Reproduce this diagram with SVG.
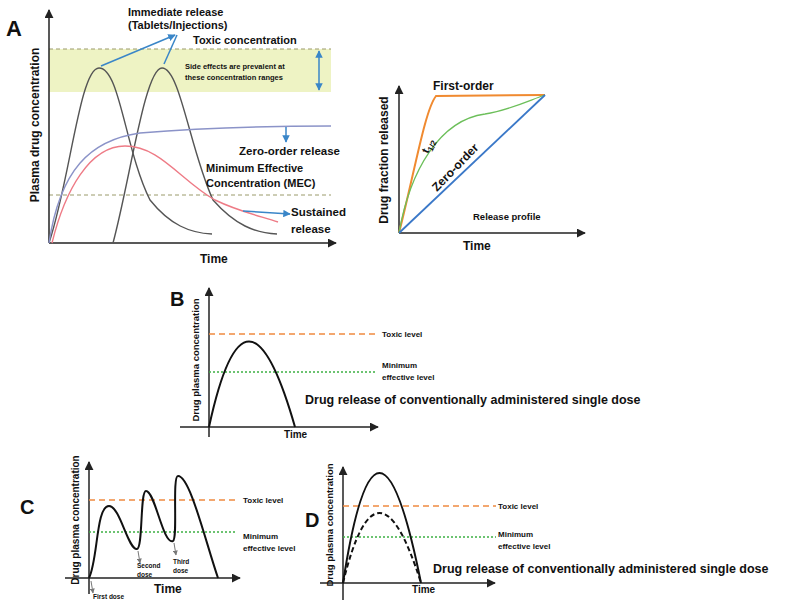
<svg xmlns="http://www.w3.org/2000/svg" width="785" height="610" viewBox="0 0 785 610">
<defs>
<style>
text{font-family:"Liberation Sans",Arial,sans-serif;font-weight:bold;fill:#111}
.ax{stroke:#222;stroke-width:1.5;fill:none}
.k{stroke:#111;stroke-width:2;fill:none}
.g{stroke:#555;stroke-width:1.4;fill:none}
.tox{stroke:#f08a40;stroke-width:1.5;stroke-dasharray:6,4}
.mec{stroke:#3cb043;stroke-width:1.3;stroke-dasharray:2,2}
.s{font-size:8px;font-weight:bold}
.bl{stroke:#3a86c8;stroke-width:1.5;fill:none}
</style>
<marker id="ah" viewBox="0 0 10 10" refX="9" refY="5" markerWidth="6" markerHeight="6" orient="auto"><path d="M0,0L10,5L0,10z" fill="#222"/></marker>
<marker id="bh" viewBox="0 0 10 10" refX="9" refY="5" markerWidth="5" markerHeight="5" orient="auto-start-reverse"><path d="M0,0L10,5L0,10z" fill="#3a86c8"/></marker>
<marker id="gh" viewBox="0 0 10 10" refX="9" refY="5" markerWidth="5" markerHeight="5" orient="auto"><path d="M0,0L10,5L0,10z" fill="#777"/></marker>
</defs>
<g id="panelA">
<text x="6" y="36" font-size="22" font-weight="normal">A</text>
<rect x="49" y="49" width="282" height="43" fill="#eef3c4"/>
<line x1="49" y1="49" x2="331" y2="49" stroke="#9a9a6a" stroke-dasharray="4,3"/>
<line x1="49" y1="195" x2="331" y2="195" stroke="#9a9a6a" stroke-dasharray="4,3"/>
<line x1="49" y1="243" x2="49" y2="10" class="ax" marker-end="url(#ah)"/>
<line x1="49" y1="243" x2="336" y2="243" class="ax" marker-end="url(#ah)"/>
<path class="g" d="M49,243 C70,180 80,68 99,68 C120,68 125,150 150,200 C170,225 190,233 212,234"/>
<path class="g" d="M113,243 C130,180 145,68 162,68 C180,68 190,150 213,200 C235,225 255,233 277,234"/>
<path d="M49,243 C60,170 90,140 140,133 C200,128 270,126 331,126" stroke="#8b93c8" stroke-width="1.4" fill="none"/>
<path d="M52,243 C65,190 90,146 125,146 C160,146 180,180 215,200 C240,212 260,216 278,222" stroke="#ee7b86" stroke-width="1.4" fill="none"/>
<line x1="319" y1="51" x2="319" y2="90" class="bl" marker-start="url(#bh)" marker-end="url(#bh)"/>
<line x1="101" y1="66" x2="175" y2="35" class="bl" marker-end="url(#bh)"/>
<line x1="164" y1="64" x2="177" y2="35" class="bl"/>
<line x1="286" y1="127" x2="286" y2="142" class="bl" marker-end="url(#bh)"/>
<line x1="243" y1="211" x2="290" y2="214" class="bl" marker-end="url(#bh)"/>
<text x="128" y="16" font-size="11">Immediate release</text>
<text x="128" y="29" font-size="11">(Tablets/Injections)</text>
<text x="193" y="44" font-size="11">Toxic concentration</text>
<text x="185" y="69" font-size="7.5">Side effects are prevalent at</text>
<text x="185" y="80" font-size="7.5">these concentration  ranges</text>
<text x="239" y="155" font-size="11.5">Zero-order release</text>
<text x="206" y="172" font-size="11">Minimum Effective</text>
<text x="206" y="187" font-size="11">Concentration (MEC)</text>
<text x="291" y="216" font-size="11.5">Sustained</text>
<text x="291" y="233" font-size="11.5">release</text>
<text x="200" y="263" font-size="12">Time</text>
<text transform="translate(39,125) rotate(-90)" text-anchor="middle" font-size="12">Plasma drug concentration</text>
</g>
<g id="panelRelease">
<line x1="399" y1="233" x2="399" y2="86" class="ax" marker-end="url(#ah)"/>
<line x1="399" y1="233" x2="585" y2="233" class="ax" marker-end="url(#ah)"/>
<path d="M399,233 C415,170 425,110 436,96 L545,95" stroke="#f08a30" stroke-width="2" fill="none"/>
<path d="M399,233 C410,170 440,120 485,114 C510,110 530,100 545,95" stroke="#6cbf5a" stroke-width="1.3" fill="none"/>
<line x1="399" y1="233" x2="545" y2="95" stroke="#3a78c8" stroke-width="1.8"/>
<text x="433" y="90" font-size="12">First-order</text>
<text transform="translate(428,154) rotate(-65)" font-size="11">t<tspan font-size="8" dy="3">1/2</tspan></text>
<text transform="translate(437,192) rotate(-46)" font-size="12">Zero-order</text>
<text x="473" y="220" font-size="9.5">Release profile</text>
<text x="463" y="250" font-size="12">Time</text>
<text transform="translate(388,160) rotate(-90)" text-anchor="middle" font-size="12">Drug fraction released</text>
</g>
<g id="panelB">
<text x="170" y="306" font-size="20" font-weight="normal">B</text>
<line x1="209" y1="437" x2="209" y2="288" class="ax" marker-end="url(#ah)"/>
<line x1="180" y1="427" x2="378" y2="427" class="ax" marker-end="url(#ah)"/>
<line x1="209" y1="334" x2="375" y2="334" class="tox"/>
<line x1="209" y1="372" x2="375" y2="372" class="mec"/>
<path class="k" d="M209,427 Q246,256 295,427"/>
<text x="382" y="337" class="s">Toxic level</text>
<text x="382" y="368" class="s">Minimum</text>
<text x="382" y="380" class="s">effective level</text>
<text x="305" y="404" font-size="12.5">Drug release of conventionally administered single dose</text>
<text x="284" y="438" font-size="10">Time</text>
<text transform="translate(199,360) rotate(-90)" text-anchor="middle" font-size="9.5">Drug plasma concentration</text>
</g>
<g id="panelC">
<text x="20" y="514" font-size="20" font-weight="normal">C</text>
<line x1="89" y1="594" x2="89" y2="462" class="ax" marker-end="url(#ah)"/>
<line x1="65" y1="578" x2="240" y2="578" class="ax" marker-end="url(#ah)"/>
<line x1="89" y1="500" x2="237" y2="500" class="tox"/>
<line x1="89" y1="532" x2="237" y2="532" class="mec"/>
<path class="k" d="M89,578 C98,560 96,506 109,506 C120,506 128,550 137,549 C143,548 140,491 146,491 C155,491 163,545 173,541 C178,538 172,476 178,476 C190,476 205,540 218,578"/>
<line x1="138" y1="551" x2="140" y2="563" stroke="#777" marker-end="url(#gh)"/>
<line x1="174" y1="543" x2="176" y2="555" stroke="#777" marker-end="url(#gh)"/>
<line x1="91" y1="581" x2="93" y2="593" stroke="#777" marker-end="url(#gh)"/>
<text x="243" y="503" class="s">Toxic level</text>
<text x="243" y="539" class="s">Minimum</text>
<text x="243" y="551" class="s">effective level</text>
<text x="137" y="568" font-size="6.5">Second</text>
<text x="137" y="577" font-size="6.5">dose</text>
<text x="173" y="564" font-size="6.5">Third</text>
<text x="173" y="573" font-size="6.5">dose</text>
<text x="93" y="599" font-size="6.5">First dose</text>
<text x="154" y="593" font-size="12">Time</text>
<text transform="translate(79,520) rotate(-90)" text-anchor="middle" font-size="10">Drug plasma concentration</text>
</g>
<g id="panelD">
<text x="305" y="527" font-size="20" font-weight="normal">D</text>
<line x1="343" y1="600" x2="343" y2="467" class="ax" marker-end="url(#ah)"/>
<line x1="320" y1="583" x2="495" y2="583" class="ax" marker-end="url(#ah)"/>
<line x1="343" y1="506" x2="496" y2="506" class="tox"/>
<line x1="343" y1="537" x2="496" y2="537" class="mec"/>
<path class="k" d="M343,583 Q377,363 421,583"/>
<path class="k" d="M343,583 Q377,443 421,583" stroke-dasharray="5,3"/>
<text x="498" y="509" class="s">Toxic level</text>
<text x="498" y="537" class="s">Minimum</text>
<text x="498" y="549" class="s">effective level</text>
<text x="433" y="573" font-size="12.5">Drug release of conventionally administered single dose</text>
<text x="412" y="593" font-size="10">Time</text>
<text transform="translate(333,525) rotate(-90)" text-anchor="middle" font-size="9.5">Drug plasma concentration</text>
</g>
</svg>
